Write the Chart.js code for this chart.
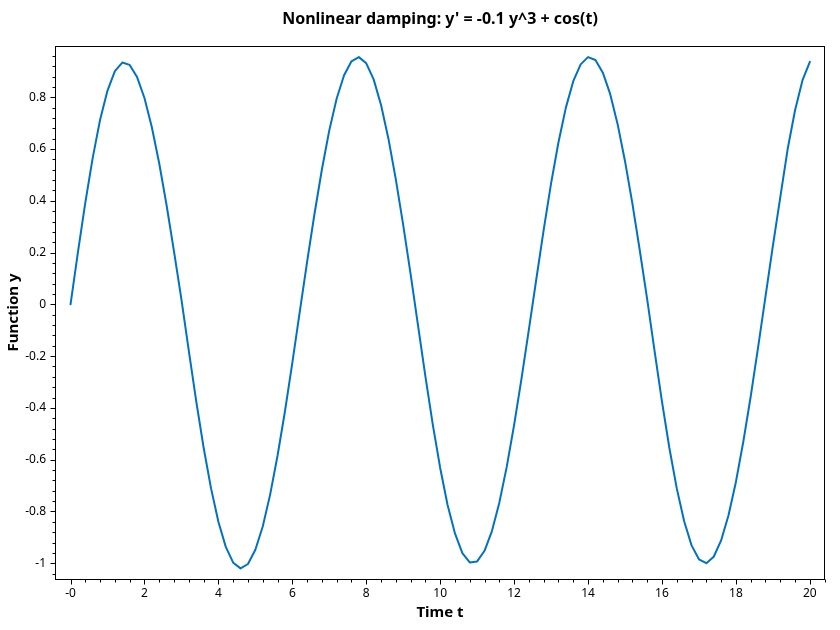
<!DOCTYPE html>
<html>
<head>
<meta charset="utf-8">
<title>Nonlinear damping</title>
<script src="https://cdn.jsdelivr.net/npm/chart.js@4.4.1/dist/chart.umd.min.js"></script>
<style>
    html, body { margin: 0; padding: 0; background: #fff; }
    #wrap { width: 840px; height: 630px; }
</style>
</head>
<body>
<div id="wrap"><canvas id="chart" width="840" height="630"></canvas></div>
<script>
// Dados
const tValues = [
    0, 0.2, 0.4, 0.6, 0.8, 1, 1.2, 1.4, 1.6, 1.8,
    2, 2.2, 2.4, 2.6, 2.8, 3, 3.2, 3.4, 3.6, 3.8,
    4, 4.2, 4.4, 4.6, 4.8, 5, 5.2, 5.4, 5.6, 5.8,
    6, 6.2, 6.4, 6.6, 6.8, 7, 7.2, 7.4, 7.6, 7.8,
    8, 8.2, 8.4, 8.6, 8.8, 9, 9.2, 9.4, 9.6, 9.8,
    10, 10.2, 10.4, 10.6, 10.8, 11, 11.2, 11.4, 11.6, 11.8,
    12, 12.2, 12.4, 12.6, 12.8, 13, 13.2, 13.4, 13.6, 13.8,
    14, 14.2, 14.4, 14.6, 14.8, 15, 15.2, 15.4, 15.6, 15.8,
    16, 16.2, 16.4, 16.6, 16.8, 17, 17.2, 17.4, 17.6, 17.8,
    18, 18.2, 18.4, 18.6, 18.8, 19, 19.2, 19.4, 19.6, 19.8,
    20
];
const yValues = [
    0, 0.201, 0.393, 0.566, 0.713, 0.826, 0.901, 0.934, 0.925, 0.878,
    0.797, 0.684, 0.544, 0.382, 0.204, 0.019, -0.180, -0.374, -0.553, -0.710,
    -0.840, -0.937, -0.998, -1.020, -1.003, -0.948, -0.858, -0.735, -0.585, -0.414,
    -0.226, -0.030, 0.164, 0.350, 0.521, 0.672, 0.795, 0.885, 0.939, 0.955,
    0.931, 0.869, 0.770, 0.640, 0.483, 0.306, 0.117, -0.081, -0.278, -0.465,
    -0.632, -0.775, -0.885, -0.961, -0.997, -0.993, -0.952, -0.876, -0.766, -0.628,
    -0.466, -0.287, -0.097, 0.097, 0.288, 0.467, 0.626, 0.760, 0.862, 0.927,
    0.955, 0.944, 0.895, 0.812, 0.696, 0.553, 0.389, 0.208, 0.019, -0.181,
    -0.376, -0.555, -0.711, -0.838, -0.931, -0.985, -1.000, -0.975, -0.912, -0.815,
    -0.686, -0.531, -0.356, -0.166, 0.030, 0.226, 0.413, 0.600, 0.750, 0.865,
    0.937
];

const xTicks = [0, 2, 4, 6, 8, 10, 12, 14, 16, 18, 20];
const xTickLabels = ['-0', '2', '4', '6', '8', '10', '12', '14', '16', '18', '20'];
const yTicks = [-1, -0.8, -0.6, -0.4, -0.2, 0, 0.2, 0.4, 0.6, 0.8];
const yTickLabels = ['-1', '-0.8', '-0.6', '-0.4', '-0.2', '0', '0.2', '0.4', '0.6', '0.8'];
const xMinorStep = 0.4;
const yMinorStep = 0.04;

const TITLE = "Nonlinear damping: y' = -0.1 y^3 + cos(t)";
const FONT = "'Noto Sans', 'Open Sans', sans-serif";
const LINE_COLOR = '#0072C0';

// Título centrado na área do gráfico, moldura e marcas de escala
const framePlugin = {
    id: 'frame',
    afterDraw(chart) {
        const { ctx, chartArea: a, scales } = chart;
        const xs = scales.x, ys = scales.y;
        ctx.save();

        ctx.fillStyle = '#000';
        ctx.font = `bold 16px ${FONT}`;
        ctx.textAlign = 'center';
        ctx.textBaseline = 'middle';
        ctx.fillText(TITLE, (a.left + a.right) / 2, 19);

        ctx.strokeStyle = '#000';
        ctx.lineWidth = 1;
        ctx.strokeRect(Math.round(a.left) + 0.5, Math.round(a.top) + 0.5,
            Math.round(a.right - a.left) - 1, Math.round(a.bottom - a.top));

        ctx.beginPath();
        const bottom = Math.round(a.bottom) + 0.5;
        for (let i = 1; i * xMinorStep <= xs.max; i++) {
            const v = i * xMinorStep;
            const isMajor = Math.abs(v / 2 - Math.round(v / 2)) < 1e-6;
            if (isMajor) continue;
            const px = Math.round(xs.getPixelForValue(v)) + 0.5;
            ctx.moveTo(px, bottom);
            ctx.lineTo(px, bottom + 3);
        }
        xTicks.forEach(v => {
            const px = Math.round(xs.getPixelForValue(v)) + 0.5;
            ctx.moveTo(px, bottom);
            ctx.lineTo(px, bottom + 5);
        });

        const left = Math.round(a.left) + 0.5;
        for (let i = Math.ceil(ys.min / yMinorStep); i * yMinorStep <= ys.max; i++) {
            const v = i * yMinorStep;
            const isMajor = Math.abs(v / 0.2 - Math.round(v / 0.2)) < 1e-6;
            if (isMajor) continue;
            const py = Math.round(ys.getPixelForValue(v)) + 0.5;
            ctx.moveTo(left, py);
            ctx.lineTo(left - 3, py);
        }
        yTicks.forEach(v => {
            const py = Math.round(ys.getPixelForValue(v)) + 0.5;
            ctx.moveTo(left, py);
            ctx.lineTo(left - 5, py);
        });
        ctx.stroke();
        ctx.restore();
    }
};

const ctx = document.getElementById('chart').getContext('2d');
new Chart(ctx, {
    type: 'line',
    data: {
        datasets: [{
            label: 'y',
            data: tValues.map((t, i) => ({ x: t, y: yValues[i] })),
            borderColor: LINE_COLOR,
            borderWidth: 2,
            borderJoinStyle: 'round',
            borderCapStyle: 'round',
            pointRadius: 0,
            tension: 0,
            fill: false
        }]
    },
    options: {
        responsive: false,
        animation: false,
        layout: { padding: { left: 0, right: 15, top: 46, bottom: 0 } },
        plugins: {
            legend: { display: false },
            tooltip: { enabled: false },
            title: { display: false }
        },
        scales: {
            x: {
                type: 'linear',
                min: -0.42,
                max: 20.41,
                grid: { display: false, drawTicks: false },
                border: { display: false },
                afterBuildTicks: s => { s.ticks = xTicks.map(v => ({ value: v })); },
                afterFit: s => { s.height = 51; },
                ticks: {
                    autoSkip: false,
                    maxRotation: 0,
                    padding: 7,
                    color: '#000',
                    font: { family: FONT, size: 12 },
                    callback: (v, i) => xTickLabels[i]
                },
                title: {
                    display: true,
                    text: 'Time t',
                    color: '#000',
                    font: { family: FONT, size: 15, weight: 'bold', lineHeight: 1.2 },
                    padding: { top: 0, bottom: 8 }
                }
            },
            y: {
                type: 'linear',
                min: -1.061,
                max: 0.998,
                grid: { display: false, drawTicks: false },
                border: { display: false },
                afterBuildTicks: s => { s.ticks = yTicks.map(v => ({ value: v })); },
                afterFit: s => { s.width = 55; },
                ticks: {
                    autoSkip: false,
                    padding: 9,
                    color: '#000',
                    font: { family: FONT, size: 12 },
                    callback: (v, i) => yTickLabels[i]
                },
                title: {
                    display: true,
                    text: 'Function y',
                    color: '#000',
                    font: { family: FONT, size: 15, weight: 'bold', lineHeight: 1.2 },
                    padding: { top: 5, bottom: 0 }
                }
            }
        }
    },
    plugins: [framePlugin]
});
</script>
</body>
</html>
